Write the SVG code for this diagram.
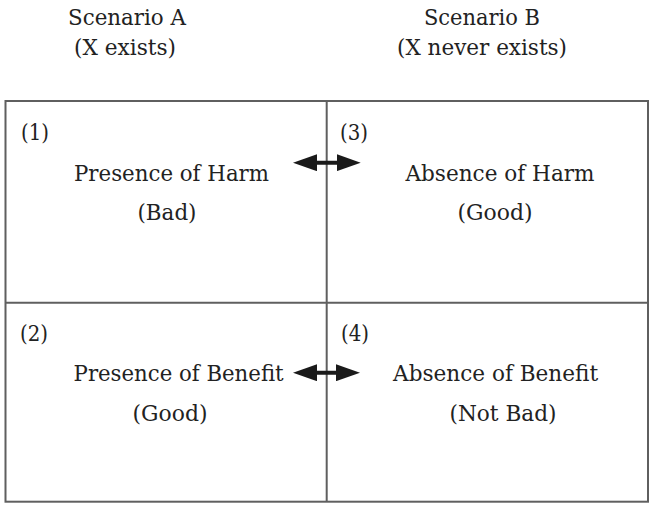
<svg xmlns="http://www.w3.org/2000/svg" width="649" height="505" viewBox="0 0 649 505">
<style>
  text { font-family: "DejaVu Serif", "Liberation Serif", serif; font-size: 23px; fill: #222; }
  .c { text-anchor: middle; }
  .grid { fill: none; stroke: #5f5f5f; stroke-width: 2; }
  .conn { stroke: #1a1a1a; stroke-width: 4; fill: none; }
</style>
<defs>
  <marker id="ah" viewBox="0 0 24 17" refX="12" refY="8.5" markerWidth="24" markerHeight="17" markerUnits="userSpaceOnUse" orient="auto-start-reverse">
    <path d="M0,0 L24,8.5 L0,17 z" fill="#1a1a1a"/>
  </marker>
</defs>
<rect width="649" height="505" fill="#fff"/>
<g id="headers">
  <text class="c" x="127" y="25" textLength="118" lengthAdjust="spacingAndGlyphs">Scenario A</text>
  <text class="c" x="125" y="55" textLength="102" lengthAdjust="spacingAndGlyphs">(X exists)</text>
  <text class="c" x="482" y="25" textLength="116" lengthAdjust="spacingAndGlyphs">Scenario B</text>
  <text class="c" x="482" y="55" textLength="170" lengthAdjust="spacingAndGlyphs">(X never exists)</text>
</g>
<g id="grid">
  <rect class="grid" x="5.5" y="101" width="642.5" height="400.7"/>
  <line class="grid" x1="326.7" y1="101" x2="326.7" y2="501.7"/>
  <line class="grid" x1="5.5" y1="302.7" x2="648" y2="302.7"/>
</g>
<g id="cell1">
  <text x="21" y="140" textLength="28" lengthAdjust="spacingAndGlyphs">(1)</text>
  <text class="c" x="171.5" y="180.5" textLength="195" lengthAdjust="spacingAndGlyphs">Presence of Harm</text>
  <text class="c" x="167" y="220" textLength="59" lengthAdjust="spacingAndGlyphs">(Bad)</text>
</g>
<g id="cell3">
  <text x="340" y="140" textLength="28" lengthAdjust="spacingAndGlyphs">(3)</text>
  <text class="c" x="500" y="180.5" textLength="189" lengthAdjust="spacingAndGlyphs">Absence of Harm</text>
  <text class="c" x="495" y="220" textLength="75" lengthAdjust="spacingAndGlyphs">(Good)</text>
</g>
<g id="cell2">
  <text x="20" y="341" textLength="28" lengthAdjust="spacingAndGlyphs">(2)</text>
  <text class="c" x="178.6" y="380.7" textLength="210" lengthAdjust="spacingAndGlyphs">Presence of Benefit</text>
  <text class="c" x="170" y="420.5" textLength="75" lengthAdjust="spacingAndGlyphs">(Good)</text>
</g>
<g id="cell4">
  <text x="341" y="341" textLength="28" lengthAdjust="spacingAndGlyphs">(4)</text>
  <text class="c" x="495.6" y="380.7" textLength="205" lengthAdjust="spacingAndGlyphs">Absence of Benefit</text>
  <text class="c" x="503" y="420.5" textLength="107" lengthAdjust="spacingAndGlyphs">(Not Bad)</text>
</g>
<g id="connectors">
  <line class="conn" x1="305" y1="162.7" x2="348.7" y2="162.7" marker-start="url(#ah)" marker-end="url(#ah)"/>
  <line class="conn" x1="305" y1="372.7" x2="348" y2="372.7" marker-start="url(#ah)" marker-end="url(#ah)"/>
</g>
</svg>
